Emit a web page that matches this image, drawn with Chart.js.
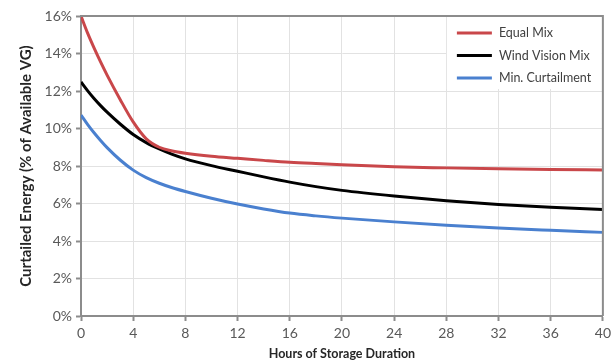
<!DOCTYPE html>
<html>
<head>
<meta charset="utf-8">
<script src="https://cdn.jsdelivr.net/npm/chart.js@4/dist/chart.umd.min.js"></script>
<style>
  html, body { margin: 0; padding: 0; background: #fff; }
  #wrap { width: 615px; height: 362px; }
</style>
</head>
<body>
<div id="wrap"><canvas id="chart" width="615" height="362"></canvas></div>
<script>
// Data (% of available VG by hours of storage)
const hours = [0, 0.5, 1, 1.5, 2, 3, 4, 5, 6, 7, 8, 10, 12, 14, 16, 18, 20, 24, 28, 32, 36, 40];
const equalMix = [16, 15.1, 14.3, 13.55, 12.85, 11.55, 10.35, 9.45, 9.0, 8.8, 8.68, 8.52, 8.41, 8.3, 8.2, 8.13, 8.07, 7.96, 7.9, 7.85, 7.81, 7.79];
const windVisionMix = [12.48, 12.02, 11.6, 11.22, 10.87, 10.24, 9.68, 9.25, 8.91, 8.62, 8.38, 8.02, 7.72, 7.42, 7.14, 6.9, 6.7, 6.4, 6.15, 5.95, 5.8, 5.68];
const minCurtailment = [10.72, 10.22, 9.77, 9.36, 8.98, 8.32, 7.78, 7.38, 7.08, 6.84, 6.64, 6.28, 5.97, 5.71, 5.49, 5.34, 5.22, 5.02, 4.84, 4.69, 4.57, 4.46];
const seriesNames = ["Equal Mix", "Wind Vision Mix", "Min. Curtailment"];
const xTicks = [0, 4, 8, 12, 16, 20, 24, 28, 32, 36, 40];

const FONT = "Lato, 'Open Sans', sans-serif";
const toPoints = (vals) => vals.map((v, i) => ({ x: hours[i], y: v }));

function line(label, vals, color) {
  return {
    label,
    data: toPoints(vals),
    borderColor: color,
    borderWidth: 3,
    pointRadius: 0,
    fill: false,
    cubicInterpolationMode: "monotone",
  };
}

// top/right frame + in-plot legend
const framePlugin = {
  id: "framePlugin",
  afterDraw(chart) {
    const { ctx, chartArea: a } = chart;
    ctx.save();
    // legend box
    const bx = a.right - 156, by = a.top + 1;
    ctx.fillStyle = "#fff";
    ctx.fillRect(bx, by, 155, 72);
    chart.data.datasets.forEach((ds, i) => {
      const y = a.top + 17 + i * 22.5;
      ctx.strokeStyle = ds.borderColor;
      ctx.lineWidth = 3;
      ctx.beginPath();
      ctx.moveTo(bx + 10, y);
      ctx.lineTo(bx + 45, y);
      ctx.stroke();
      ctx.fillStyle = "#404040";
      ctx.font = "12.5px " + FONT;
      ctx.textBaseline = "middle";
      ctx.fillText(ds.label, bx + 52, y);
    });
    // frame on top and right
    ctx.strokeStyle = "#8c8c8c";
    ctx.lineWidth = 2;
    ctx.beginPath();
    ctx.moveTo(a.left, a.top);
    ctx.lineTo(a.right, a.top);
    ctx.lineTo(a.right, a.bottom);
    ctx.stroke();
    ctx.restore();
  },
};

new Chart(document.getElementById("chart"), {
  type: "line",
  data: {
    datasets: [
      line(seriesNames[0], equalMix, "#c9474a"),
      line(seriesNames[1], windVisionMix, "#000000"),
      line(seriesNames[2], minCurtailment, "#4a80cf"),
    ],
  },
  options: {
    responsive: false,
    animation: false,
    layout: { padding: { left: 0, right: 11, top: 16, bottom: 0 } },
    plugins: {
      legend: { display: false },
      tooltip: { enabled: false },
    },
    scales: {
      x: {
        type: "linear",
        min: 0,
        max: 40,
        afterBuildTicks: (s) => { s.ticks = xTicks.map((v) => ({ value: v })); },
        afterFit: (s) => { s.height = 46; },
        ticks: { color: "#595959", font: { family: FONT, size: 14 }, padding: 4, maxRotation: 0 },
        grid: { color: "#e2e2e2", tickColor: "#8c8c8c", tickLength: 5, tickWidth: 2 },
        border: { color: "#8c8c8c", width: 2 },
        title: {
          display: true,
          text: "Hours of Storage Duration",
          color: "#262626",
          font: { family: FONT, size: 12.5, weight: "bold" },
          padding: { top: 0, bottom: 1 },
        },
      },
      y: {
        min: 0,
        max: 16,
        afterFit: (s) => { s.width = 81; },
        ticks: {
          stepSize: 2,
          color: "#595959",
          font: { family: FONT, size: 14 },
          padding: 4,
          callback: (v) => v + "%",
        },
        grid: { color: "#e2e2e2", tickColor: "#8c8c8c", tickLength: 5, tickWidth: 2 },
        border: { color: "#8c8c8c", width: 2 },
        title: {
          display: true,
          text: "Curtailed Energy (% of Available VG)",
          color: "#262626",
          font: { family: FONT, size: 15, weight: "bold" },
          padding: { top: 17, bottom: 0 },
        },
      },
    },
  },
  plugins: [framePlugin],
});
</script>
</body>
</html>
